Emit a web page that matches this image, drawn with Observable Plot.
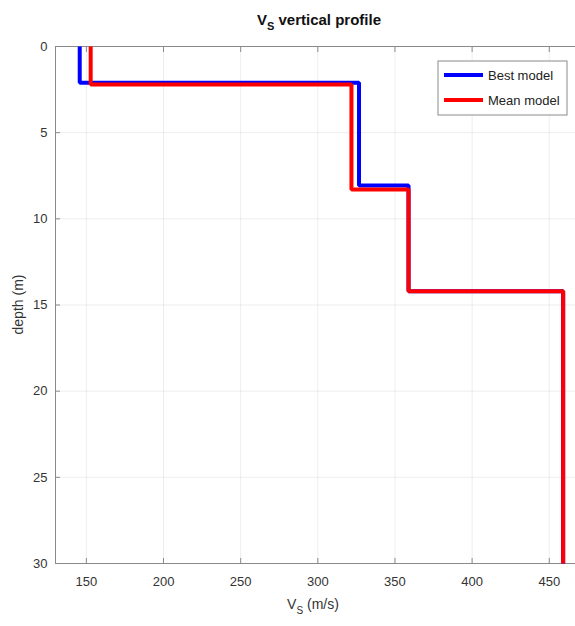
<!DOCTYPE html>
<html><head><meta charset="utf-8">
<script src="https://cdn.jsdelivr.net/npm/d3@7"></script>
<script src="https://cdn.jsdelivr.net/npm/@observablehq/plot@0.6"></script>
<style>
body{margin:0;background:#fff}
#chart svg{font-family:"Liberation Sans",Arial,sans-serif;overflow:visible}
</style>
</head><body><div id="chart"></div>
<script>
// Layer bottoms (m) and shear-wave velocities (m/s)
const bestBottoms = [2.1, 8.07, 14.2, 30];
const bestVs = [145.7, 326.7, 358.8, 459];
const meanBottoms = [2.2, 8.3, 14.2, 30];
const meanVs = [152.8, 321.8, 358.8, 459];
const seriesNames = ["Best model", "Mean model"];
const seriesColors = ["#0000ff", "#ff0000"];
const xTicks = [150, 200, 250, 300, 350, 400, 450];
const yTicks = [0, 5, 10, 15, 20, 25, 30];

function profile(vs, bottoms, name) {
  const pts = [];
  let top = 0;
  vs.forEach((v, i) => {
    pts.push({vs: v, depth: top, model: name});
    pts.push({vs: v, depth: bottoms[i], model: name});
    top = bottoms[i];
  });
  return pts;
}
const best = profile(bestVs, bestBottoms, seriesNames[0]);
const mean = profile(meanVs, meanBottoms, seriesNames[1]);

const W = 575, H = 626;
const chart = Plot.plot({
  width: W, height: H,
  marginLeft: 55, marginRight: 0, marginTop: 46, marginBottom: 63,
  style: {fontSize: "13px", color: "#333", background: "#fff"},
  x: {domain: [130, 467]},
  y: {domain: [0, 30], reverse: true},
  marks: [
    Plot.gridX(xTicks, {stroke: "#000", strokeOpacity: 0.07}),
    Plot.gridY(yTicks, {stroke: "#000", strokeOpacity: 0.07}),
    Plot.ruleY([0, 30], {stroke: "#8a8a8a"}),
    Plot.ruleX([130], {stroke: "#8a8a8a"}),
    Plot.axisX(xTicks, {anchor: "bottom", tickSize: -5, tickPadding: 18, label: null, stroke: "#8a8a8a", fill: "#333"}),
    Plot.axisX(xTicks, {anchor: "top", tickSize: -5, tickFormat: () => "", label: null, stroke: "#8a8a8a"}),
    Plot.axisY(yTicks, {anchor: "left", tickSize: -5, tickPadding: 13, label: null, stroke: "#8a8a8a", fill: "#333"}),
    Plot.line(best, {x: "vs", y: "depth", stroke: seriesColors[0], strokeWidth: 4, strokeLinejoin: "miter", strokeLinecap: "butt"}),
    Plot.line(mean, {x: "vs", y: "depth", stroke: seriesColors[1], strokeWidth: 4, strokeLinejoin: "miter", strokeLinecap: "butt"})
  ]
});
document.getElementById("chart").appendChild(chart);

const svg = d3.select(chart);
const xs = chart.scale("x"), ys = chart.scale("y");
const cx = (xs.range[0] + xs.range[1]) / 2 + 4;

// Title
const t = svg.append("text").attr("x", cx).attr("y", 25).attr("text-anchor", "middle")
  .attr("font-size", 15).attr("font-weight", "bold").attr("fill", "#111");
t.append("tspan").text("V");
t.append("tspan").attr("font-size", 11).attr("dy", 5).text("S");
t.append("tspan").attr("dy", -5).text(" vertical profile");

// X label
const xl = svg.append("text").attr("x", cx - 6).attr("y", 609).attr("text-anchor", "middle")
  .attr("font-size", 14).attr("fill", "#333");
xl.append("tspan").text("V");
xl.append("tspan").attr("font-size", 10).attr("dy", 5).text("S");
xl.append("tspan").attr("dy", -5).text(" (m/s)");

// Y label
svg.append("text").attr("transform", `translate(23,${(ys.range[0] + ys.range[1]) / 2}) rotate(-90)`)
  .attr("text-anchor", "middle").attr("font-size", 14).attr("fill", "#333").text("depth (m)");

// Legend
const lg = svg.append("g").attr("transform", "translate(438,61)");
lg.append("rect").attr("width", 129).attr("height", 54).attr("fill", "#fff").attr("stroke", "#8a8a8a");
seriesNames.forEach((name, i) => {
  const yy = 14 + i * 25;
  lg.append("line").attr("x1", 6).attr("x2", 45).attr("y1", yy).attr("y2", yy)
    .attr("stroke", seriesColors[i]).attr("stroke-width", 4);
  lg.append("text").attr("x", 50).attr("y", yy).attr("dy", "0.35em").attr("text-anchor", "start")
    .attr("font-size", 13).attr("fill", "#222").text(name);
});
</script>
</body></html>
